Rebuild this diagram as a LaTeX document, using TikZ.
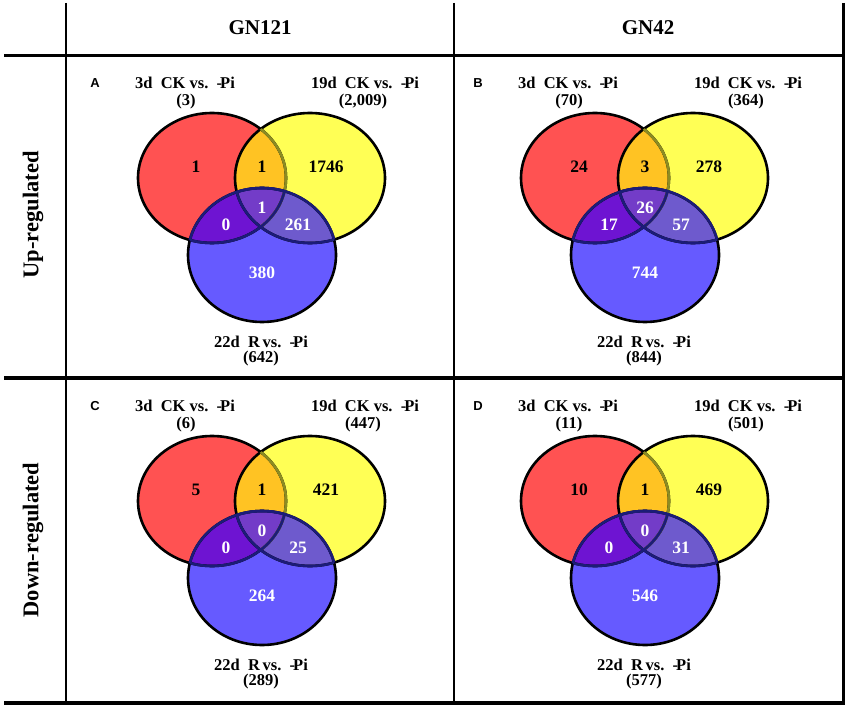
\documentclass[tikz,border=0pt]{standalone}
\usepackage{fontspec}
\setmainfont{Liberation Serif}
\newfontfamily\sanf{Liberation Sans}
\definecolor{cR}{HTML}{FF5252}
\definecolor{cY}{HTML}{FFFF55}
\definecolor{cB}{HTML}{665AFF}
\definecolor{cRY}{HTML}{FFC323}
\definecolor{cRB}{HTML}{6E14D2}
\definecolor{cYB}{HTML}{6E5ACD}
\definecolor{cRYB}{HTML}{733CC8}
\definecolor{cOl}{HTML}{8C8C22}
\definecolor{cNv}{HTML}{1C1C78}
\tikzset{
  eR/.style={x radius=74pt,y radius=65pt},
  eY/.style={x radius=75pt,y radius=65pt},
  eB/.style={x radius=74pt,y radius=67pt},
  rim/.style={line width=2.6pt},
  lab/.style={font=\bfseries\fontsize{16.5}{18}\selectfont, inner sep=0pt},
  num/.style={font=\bfseries\fontsize{17.5}{18}\selectfont, inner sep=0pt},
  numw/.style={num, text=white},
  hdr/.style={font=\bfseries\fontsize{21}{22}\selectfont, inner sep=0pt},
  rowhdr/.style={font=\bfseries\fontsize{22.5}{24}\selectfont, inner sep=0pt, rotate=90},
  plet/.style={font=\sanf\bfseries\fontsize{13}{13}\selectfont, inner sep=0pt},
  rule/.style={line width=3.2pt},
  vrule/.style={line width=2.5pt},
}
\begin{document}
\begin{tikzpicture}[x=1pt,y=-1pt]
\useasboundingbox (0,0) rectangle (850,708);
% table
\draw[rule] (4,55.5) -- (845,55.5);
\draw[rule] (4,378) -- (845,378);
\draw[rule] (4,703) -- (845,703);
\draw[vrule] (66,3) -- (66,703);
\draw[vrule] (454,3) -- (454,703);
\draw[line width=3pt] (843,3) -- (843,704.5);
\node[hdr] (h1) at (260,28) {GN121};
\node[hdr] (h2) at (648,28) {GN42};
\node[rowhdr] (r1) at (33,215) {Up-regulated};
\node[rowhdr] (r2) at (33,540) {Down-regulated};
% panels
\foreach \ox/\oy/\L/\cA/\cB/\cC/\na/\nb/\nc/\nab/\nac/\nbc/\nabc in {
  0/0/A/3/{2,009}/642/1/1746/380/1/0/261/1,
  383/0/B/70/364/844/24/278/744/3/17/57/26,
  0/323/C/6/447/289/5/421/264/1/0/25/0,
  383/323/D/11/501/577/10/469/546/1/0/31/0}{
\begin{scope}[shift={(\ox,\oy)}]
  \coordinate (cr\L) at (212,178);
  \coordinate (cy\L) at (310,178);
  \coordinate (cb\L) at (262,255);
  \fill[cR] (cr\L) ellipse[eR];
  \fill[cY] (cy\L) ellipse[eY];
  \fill[cB] (cb\L) ellipse[eB];
  \begin{scope}
    \clip (cr\L) ellipse[eR];
    \fill[cRY] (cy\L) ellipse[eY];
    \fill[cRB] (cb\L) ellipse[eB];
  \end{scope}
  \begin{scope}
    \clip (cy\L) ellipse[eY];
    \fill[cYB] (cb\L) ellipse[eB];
  \end{scope}
  \begin{scope}
    \clip (cr\L) ellipse[eR];
    \clip (cy\L) ellipse[eY];
    \fill[cRYB] (cb\L) ellipse[eB];
  \end{scope}
  \draw[rim] (cr\L) ellipse[eR] (cy\L) ellipse[eY] (cb\L) ellipse[eB];
  \begin{scope}
    \clip (cy\L) ellipse[eY];
    \draw[rim, cOl] (cr\L) ellipse[eR];
  \end{scope}
  \begin{scope}
    \clip (cb\L) ellipse[eB];
    \draw[rim, cNv] (cr\L) ellipse[eR] (cy\L) ellipse[eY];
  \end{scope}
  \begin{scope}
    \clip (cr\L) ellipse[eR];
    \draw[rim, cNv] (cb\L) ellipse[eB];
  \end{scope}
  \begin{scope}
    \clip (cy\L) ellipse[eY];
    \draw[rim, cNv] (cb\L) ellipse[eB];
  \end{scope}
  \node[plet] (let\L) at (95,83) {\L};
  \node[lab] (t1\L) at (185,83) {3d\ \ CK vs.\ \ -\kern-2pt Pi};
  \node[lab] (k1\L) at (186,102) {(\cA)};
  \node[lab] (t2\L) at (365,83) {19d\ \ CK vs.\ \ -\kern-2pt Pi};
  \node[lab] (k2\L) at (363,102) {(\cB)};
  \node[lab] (t3\L) at (261,342) {22d\ \ R\,vs.\ \ -\kern-2pt Pi};
  \node[lab] (k3\L) at (261,359) {(\cC)};
  \node[num] (a\L) at (196,167) {\na};
  \node[num] (ab\L) at (262,167) {\nab};
  \node[num] (b\L) at (326,167) {\nb};
  \node[numw] (abc\L) at (262,208) {\nabc};
  \node[numw] (ac\L) at (226,225) {\nac};
  \node[numw] (bc\L) at (298,225) {\nbc};
  \node[numw] (c\L) at (262,273) {\nc};
\end{scope}
}
\end{tikzpicture}
\end{document}
